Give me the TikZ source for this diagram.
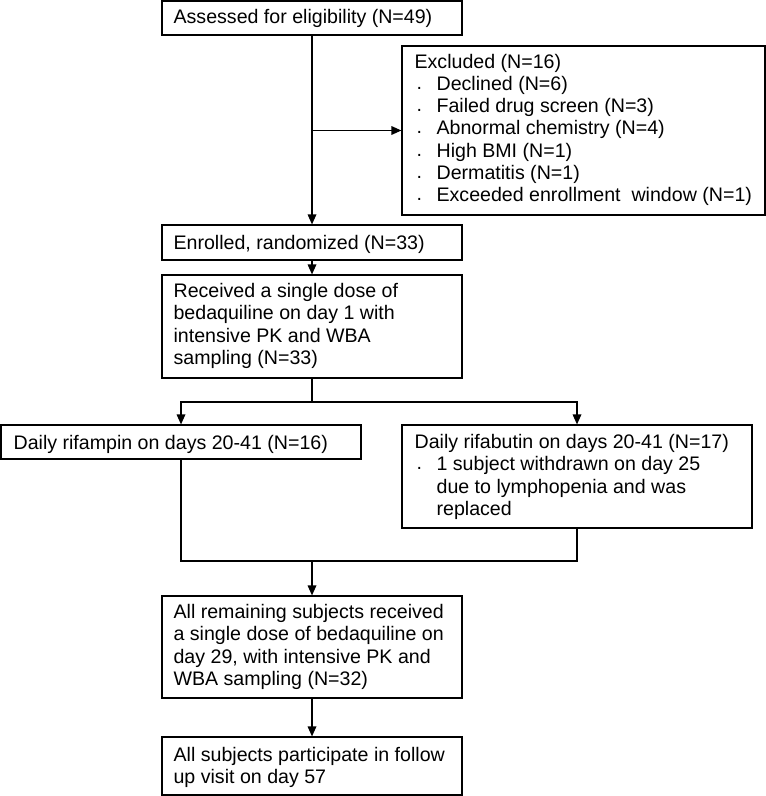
\documentclass[tikz,border=0pt]{standalone}
\usepackage{fontspec}
\setmainfont{Liberation Sans}
\usetikzlibrary{arrows.meta,fit}
\begin{document}
\begin{tikzpicture}[x=0.75pt,y=-0.75pt, line width=0.9pt,
  box/.style={draw, inner sep=0pt},
  txt/.style={anchor=base west, inner sep=0pt, font=\fontsize{14.7pt}{16.7pt}\selectfont},
  arr/.style={-{Triangle[length=7.5pt,width=6.5pt]}}]
\useasboundingbox (0,0) rectangle (766,796);
% boxes
\node[box, fit={(162,1)(462,35)}] (b1) {};
\node[box, fit={(402,46)(765,215)}] (excl) {};
\node[box, fit={(162,225)(462,260)}] (enr) {};
\node[box, fit={(162,275)(462,378)}] (rec) {};
\node[box, fit={(1,425)(361,459)}] (lft) {};
\node[box, fit={(402,425)(752,528)}] (rgt) {};
\node[box, fit={(162,596)(462,698)}] (rem) {};
\node[box, fit={(162,737)(462,795)}] (fin) {};
% texts
\node[txt] (t1) at (173,23) {Assessed for eligibility (N=49)};
\node[txt] (e0) at (414,68) {Excluded (N=16)};
\node[txt] (d1) at (416,89.3) {.};
\node[txt] (e1) at (436,90.3) {Declined (N=6)};
\node[txt] (d2) at (416,111.6) {.};
\node[txt] (e2) at (436,112.6) {Failed drug screen (N=3)};
\node[txt] (d3) at (416,133.9) {.};
\node[txt] (e3) at (436,134.9) {Abnormal chemistry (N=4)};
\node[txt] (d4) at (416,156.2) {.};
\node[txt] (e4) at (436,157.2) {High BMI (N=1)};
\node[txt] (d5) at (416,178.5) {.};
\node[txt] (e5) at (436,179.5) {Dermatitis (N=1)};
\node[txt] (d6) at (416,200.8) {.};
\node[txt] (e6) at (436,201.8) {Exceeded enrollment\ \ window (N=1)};
\node[txt] (t2) at (173,249) {Enrolled, randomized (N=33)};
\node[txt] (r1) at (173,297) {Received a single dose of};
\node[txt] (r2) at (173,319.5) {bedaquiline on day 1 with};
\node[txt] (r3) at (173,342) {intensive PK and WBA};
\node[txt] (r4) at (173,364.5) {sampling (N=33)};
\node[txt] (l1) at (13,449) {Daily rifampin on days 20-41 (N=16)};
\node[txt] (g1) at (414,448) {Daily rifabutin on days 20-41 (N=17)};
\node[txt] (gd) at (416,469.5) {.};
\node[txt] (g2) at (436,470.5) {1 subject withdrawn on day 25};
\node[txt] (g3) at (436,493) {due to lymphopenia and was};
\node[txt] (g4) at (436,515.5) {replaced};
\node[txt] (m1) at (173,618) {All remaining subjects received};
\node[txt] (m2) at (173,640.5) {a single dose of bedaquiline on};
\node[txt] (m3) at (173,663) {day 29, with intensive PK and};
\node[txt] (m4) at (173,685.5) {WBA sampling (N=32)};
\node[txt] (f1) at (173,761) {All subjects participate in follow};
\node[txt] (f2) at (173,783) {up visit on day 57};
% connectors
\draw[arr] (b1.south) -- (enr.north);
\coordinate (br) at (b1.south |- excl.west);
\draw[arr] (br) -- (excl.west);
\draw[arr] (enr.south) -- (rec.north);
\coordinate (split) at (312,402);
\draw (rec.south) -- (split);
\draw[arr] (split) -| (lft.north);
\draw[arr] (split) -| (rgt.north);
\coordinate (merge) at (312,561);
\draw (lft.south) |- (merge);
\draw (rgt.south) |- (merge);
\draw[arr] (merge) -- (rem.north);
\draw[arr] (rem.south) -- (fin.north);
\end{tikzpicture}
\end{document}
